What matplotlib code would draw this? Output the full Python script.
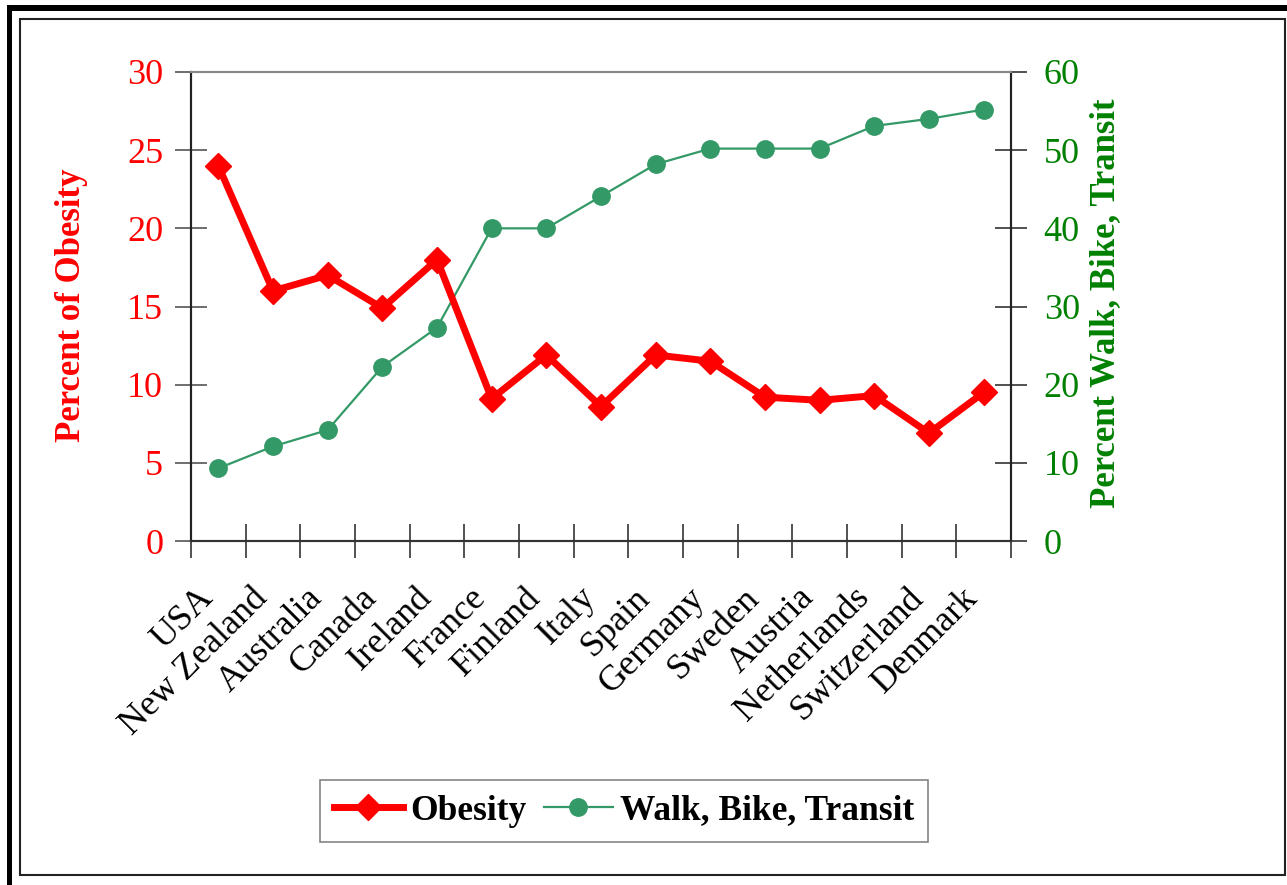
import matplotlib
matplotlib.use("Agg")
import matplotlib.pyplot as plt
from matplotlib.patches import Rectangle
from matplotlib.lines import Line2D
from matplotlib.transforms import ScaledTranslation

countries = ["USA", "New Zealand", "Australia", "Canada", "Ireland", "France",
             "Finland", "Italy", "Spain", "Germany", "Sweden", "Austria",
             "Netherlands", "Switzerland", "Denmark"]
obesity = [24.0, 16.0, 17.0, 14.9, 18.0, 9.1, 11.9, 8.6, 11.9, 11.5, 9.2, 9.0, 9.3, 6.9, 9.5]
walk_bike_transit = [9.3, 12.1, 14.2, 22.3, 27.3, 40.0, 40.0, 44.1, 48.2, 50.2, 50.2, 50.2, 53.1, 54.0, 55.2]
left_ticks = [0, 5, 10, 15, 20, 25, 30]
right_ticks = [0, 10, 20, 30, 40, 50, 60]

plt.rcParams['font.family'] = ['Liberation Serif', 'DejaVu Serif']

W, H = 1287, 885
fig = plt.figure(figsize=(W / 100, H / 100), dpi=100)

def fx(x):
    return x / W

def fy(y):
    return 1 - y / H

# frame decorations
fig.patches.append(Rectangle((fx(7), 0), fx(5), fy(5), transform=fig.transFigure,
                             facecolor='black', edgecolor='none', zorder=0))
fig.patches.append(Rectangle((fx(7), fy(11)), 1 - fx(7), 6 / H, transform=fig.transFigure,
                             facecolor='black', edgecolor='none', zorder=0))
fig.patches.append(Rectangle((fx(20), fy(875)), fx(1265), (875 - 19) / H, transform=fig.transFigure,
                             facecolor='none', edgecolor='#222222', linewidth=1.5, zorder=0))

L, R, T, B = 191, 1011, 72, 541
ax = fig.add_axes([fx(L), fy(B), fx(R - L), (B - T) / H])
ax2 = ax.twinx()

n = len(countries)
xs = list(range(n))

ax.plot(xs, obesity, color='#FF0000', linewidth=5, marker='D', markersize=13,
        markeredgecolor='#FF0000', markerfacecolor='#FF0000', zorder=3, clip_on=False)
ax2.plot(xs, walk_bike_transit, color='#339966', linewidth=1.6, marker='o', markersize=12.5,
         markeredgecolor='#339966', markerfacecolor='#339966', zorder=3, clip_on=False)

ax.set_zorder(ax2.get_zorder() + 1)
ax.patch.set_visible(False)

ax.set_xlim(-0.5, n - 0.5)
ax.set_ylim(0, 30)
ax2.set_ylim(0, 60)
ax.set_yticks(left_ticks)
ax2.set_yticks(right_ticks)

ax.set_xticks([i + 0.5 for i in range(-1, n)])
ax.set_xticklabels([])
ax.set_xticks(xs, minor=True)
ax.set_xticklabels(countries, minor=True, rotation=45, ha='right', va='top',
                   rotation_mode='anchor', fontsize=26)
ax.tick_params(axis='x', which='minor', length=0, pad=29)
ax.tick_params(axis='x', which='major', direction='inout', length=24, width=1.2, color='#333333')
shift = ScaledTranslation(-0.22, 0, fig.dpi_scale_trans)
for lbl in ax.get_xticklabels(minor=True):
    lbl.set_transform(lbl.get_transform() + shift)

ax.tick_params(axis='y', direction='inout', length=23, width=1.2, color='#555555',
               labelcolor='#FF0000', labelsize=26, pad=8.5)
ax2.tick_params(axis='y', direction='inout', length=23, width=1.2, color='#333333',
                labelcolor='#008000', labelsize=26, pad=12)

for a in (ax, ax2):
    a.spines['top'].set_color('#888888')
    a.spines['left'].set_color('#222222')
    a.spines['right'].set_color('#222222')
    a.spines['bottom'].set_color('#333333')
    for s in a.spines.values():
        s.set_linewidth(1.5)

fig.text(fx(72), fy(305), 'Percent of Obesity', rotation=90, color='#FF0000', fontsize=25,
         fontweight='bold', ha='center', va='center')
fig.text(fx(1106), fy(303), 'Percent Walk, Bike, Transit', rotation=90, color='#008000',
         fontsize=25, fontweight='bold', ha='center', va='center')

handles = [
    Line2D([], [], color='#FF0000', linewidth=5, marker='D', markersize=13),
    Line2D([], [], color='#339966', linewidth=1.6, marker='o', markersize=12.5),
]
leg = fig.legend(handles, ['Obesity', 'Walk, Bike, Transit'], loc='center',
                 bbox_to_anchor=(fx(624), fy(811)), ncol=2, frameon=True, fancybox=False,
                 prop={'family': 'Liberation Serif', 'weight': 'bold', 'size': 25.5},
                 handlelength=1.95, handletextpad=0.2, columnspacing=0.5, borderpad=0.4)
leg.get_frame().set_edgecolor('#666666')
leg.get_frame().set_linewidth(1.2)

fig.savefig('out.png', dpi=100)
